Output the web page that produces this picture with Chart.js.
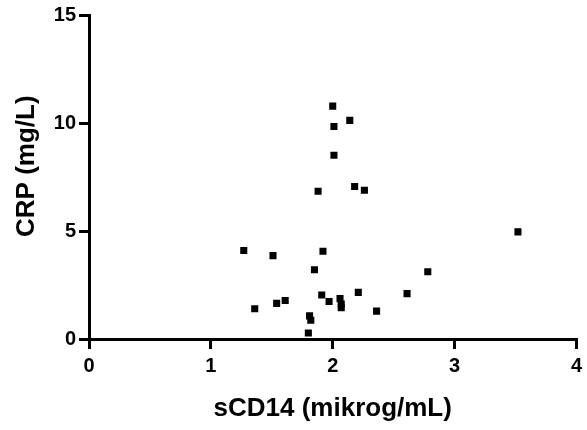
<!DOCTYPE html>
<html>
<head>
<meta charset="utf-8">
<script src="https://cdn.jsdelivr.net/npm/chart.js@4"></script>
<style>
  html, body { margin: 0; padding: 0; background: #fff; }
  #wrap { width: 587px; height: 430px; position: relative; }
</style>
</head>
<body>
<div id="wrap"><canvas id="grafico"></canvas></div>
<script>
// valores
const sCD14 = [2.00, 2.14, 2.01, 2.01, 1.88, 2.18, 2.26, 1.27, 1.51, 1.92, 1.85,
               1.36, 1.54, 1.61, 1.91, 1.97, 2.06, 2.07, 2.07, 2.21, 2.36, 1.81,
               1.82, 1.80, 2.61, 2.78, 3.52];
const crp = [10.78, 10.12, 9.84, 8.51, 6.84, 7.06, 6.89, 4.10, 3.86, 4.06, 3.21,
             1.40, 1.65, 1.78, 2.04, 1.74, 1.87, 1.62, 1.45, 2.16, 1.29, 1.07,
             0.87, 0.28, 2.10, 3.11, 4.96];
const xTicks = [0, 1, 2, 3, 4];
const yTicks = [0, 5, 10, 15];

const pontos = sCD14.map((x, i) => ({ x: x, y: crp[i] }));

const fonteTick = { family: 'Liberation Sans', size: 20, weight: 'bold' };
const fonteTitulo = { family: 'Liberation Sans', size: 26, weight: 'bold' };

const ctx = document.getElementById('grafico').getContext('2d');
const chart = new Chart(ctx, {
    type: 'scatter',
    data: {
        datasets: [{
            data: pontos,
            pointStyle: 'rect',
            pointRadius: 5,
            pointHoverRadius: 5,
            backgroundColor: '#000',
            borderColor: '#000',
            borderWidth: 0
        }]
    },
    options: {
        responsive: true,
        maintainAspectRatio: false,
        animation: false,
        layout: { padding: { top: 12, right: 8, left: 0, bottom: 0 } },
        plugins: { legend: { display: false }, tooltip: { enabled: false } },
        scales: {
            x: {
                type: 'linear',
                min: 0, max: 4,
                afterBuildTicks: (s) => { s.ticks = xTicks.map(v => ({ value: v })); },
                afterFit: (s) => { s.height = 91; },
                grid: { display: true, drawOnChartArea: false, drawTicks: true, tickLength: 10, color: '#000', lineWidth: 3 },
                border: { display: true, color: '#000', width: 3 },
                ticks: { color: '#000', font: fonteTick, padding: 5, maxRotation: 0 },
                title: { display: true, text: 'sCD14 (mikrog/mL)', color: '#000', font: fonteTitulo, padding: { top: 6, bottom: 6 } }
            },
            y: {
                type: 'linear',
                min: 0, max: 15,
                afterBuildTicks: (s) => { s.ticks = yTicks.map(v => ({ value: v })); },
                afterFit: (s) => { s.width = 89; },
                grid: { display: true, drawOnChartArea: false, drawTicks: true, tickLength: 10, color: '#000', lineWidth: 3 },
                border: { display: true, color: '#000', width: 3 },
                ticks: { color: '#000', font: fonteTick, padding: 3 },
                // espaços à esquerda sobem o título um pouco, como no original
                title: { display: true, text: '   CRP (mg/L)', color: '#000', font: fonteTitulo, padding: { top: 11, bottom: 0 } }
            }
        }
    }
});
</script>
</body>
</html>
